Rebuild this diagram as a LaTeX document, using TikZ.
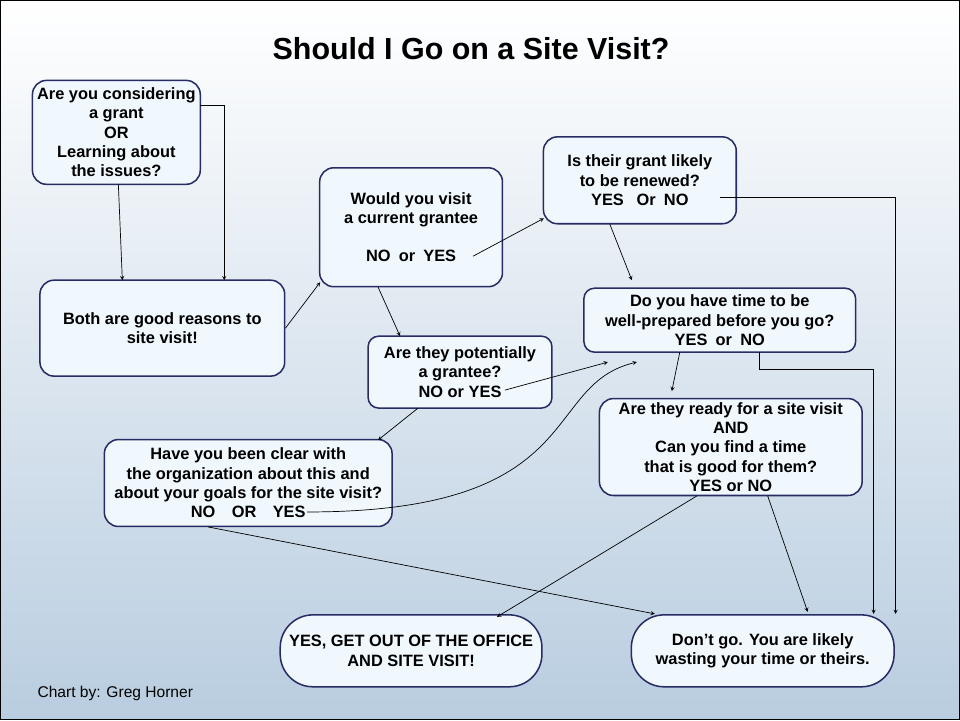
\documentclass[tikz,border=0pt]{standalone}
\usepackage{fontspec}
\setmainfont{Liberation Sans}
\usetikzlibrary{positioning,calc,arrows}
\definecolor{boxline}{RGB}{40,44,100}
\definecolor{boxfill}{RGB}{240,247,253}
\definecolor{bgbot}{RGB}{185,205,224}
\tikzset{
  box/.style 2 args={draw=boxline, line width=1.3pt, rounded corners=12pt, fill=boxfill,
    align=center, font=\fontsize{14}{16.5}\selectfont\bfseries,
    minimum width=#1*0.3mm, minimum height=#2*0.3mm, inner sep=1pt},
  link/.style={-stealth, semithick, black}
}
\begin{document}
\begin{tikzpicture}[x=0.3mm, y=-0.3mm]
%background
	\shade[top color=white, bottom color=bgbot, draw=black, line width=0.8pt] (0,0) rectangle (960,720);
	\useasboundingbox (0,0) rectangle (960,720);

	\node[font=\fontsize{26}{30}\selectfont\bfseries] (title) at (471,48) {Should I Go on a Site Visit?};
	\node[anchor=west, font=\fontsize{13.3}{15}\selectfont] (credit) at (33,694) {Chart by: Greg Horner};

%boxes
	\node[box={168}{104}] (consider) at (116,132) {Are you considering\\a grant\\OR\\Learning about\\the issues?};
	\node[box={245}{96}] (both) at (162,328) {Both are good reasons to\\site visit!};
	\node[box={183}{119}] (visit) at (411,227) {Would you visit\\a current grantee\\[16pt]NO\enspace or\enspace YES};
	\node[box={193}{87}] (renew) at (640,180) {Is their grant likely\\to be renewed?\\YES\enspace\ Or\enspace NO};
	\node[box={272}{64}, rounded corners=9pt] (prep) at (720,320) {Do you have time to be\\well-prepared before you go?\\YES\enspace or\enspace NO};
	\node[box={184}{72}, rounded corners=9pt] (potential) at (460,372) {Are they potentially\\a grantee?\\NO or YES};
	\node[box={263}{97}] (ready) at (731,447) {Are they ready for a site visit\\AND\\Can you find a time\\that is good for them?\\YES or NO};
	\node[box={288}{87}] (clear) at (248,483) {Have you been clear with\\the organization about this and\\about your goals for the site visit?\\NO\quad OR\quad YES};
	\node[box={262}{72}, rounded corners=28pt] (go) at (411,651) {YES, GET OUT OF THE OFFICE\\AND SITE VISIT!};
	\node[box={263}{72}, rounded corners=28pt] (dont) at (763,651) {Don’t go. You are likely\\wasting your time or theirs.};

%connector ends
	\coordinate (consOut) at (200,105);
	\coordinate (visitYes) at (473,256);
	\coordinate (renewNo) at (720,197);
	\coordinate (potYes) at (505,390);
	\coordinate (clearYes) at (307,512);
	\coordinate (prepNo) at (760,352);

%links
	\draw[link] (118,184) -- (122,280);
	\draw[link] (consOut) -| (224,280);
	\draw[link] (both.east |- 328,328) -- (320,282);
	\draw[link] (visitYes) -- (544,218);
	\draw[link] (378,287) -- (400,336);
	\draw[link] (610,224) -- (632,280);
	\draw[link] (renewNo) -- (896,197) -- (896,614);
	\draw[link] (potYes) -- (608,362);
	\draw[link] (418,408) -- (378,440);
	\draw[link] (680,352) -- (672,391);
	\draw[link] (prepNo) -- (760,369) -- (874,369) -- (874,614);
	\draw[link] (clearYes) .. controls (590,512) and (540,385) .. (637,362);
	\draw[link] (208,527) -- (655,614);
	\draw[link] (697,496) -- (497,617);
	\draw[link] (768,496) -- (808,612);
\end{tikzpicture}
\end{document}
